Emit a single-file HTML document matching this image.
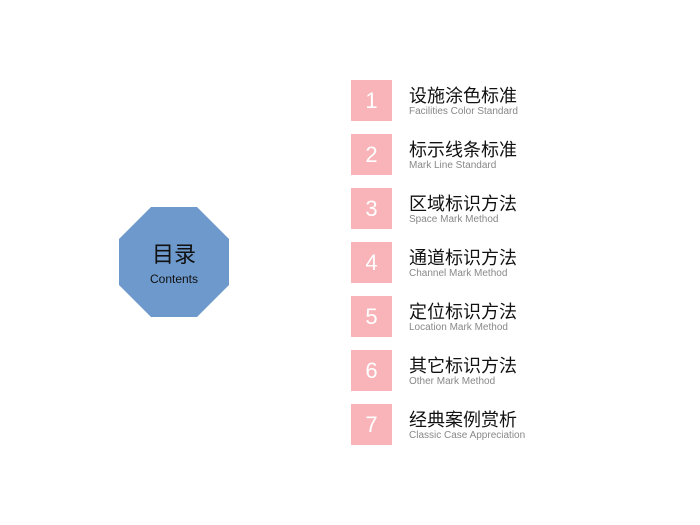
<!DOCTYPE html>
<html><head><meta charset="utf-8"><style>
body{margin:0;width:700px;height:525px;background:#fff;position:relative;overflow:hidden;font-family:"Liberation Sans","Noto Sans CJK SC",sans-serif}
.sq{position:absolute;left:351px;width:41px;height:41px;background:#f8b4b8;color:#fff;font-size:22px;line-height:41px;text-align:center}
.cn{position:absolute;left:409px;font-size:18px;color:#111;line-height:20px}
.en{position:absolute;left:409px;font-size:10px;color:#888;line-height:12px}
</style></head><body>
<svg style="position:absolute;left:0;top:0" width="700" height="525">
<polygon points="151,207 197,207 229,239 229,285 197,317 151,317 119,285 119,239" fill="#6d99cc"/>
<text x="174" y="262" text-anchor="middle" font-family="Noto Sans CJK SC,sans-serif" font-size="22" fill="#111">目录</text>
<text x="174" y="283" text-anchor="middle" font-family="Liberation Sans,sans-serif" font-size="12" fill="#111">Contents</text>
</svg>
<div class="sq" style="top:80px">1</div><div class="cn" style="top:86px">设施涂色标准</div><div class="en" style="top:106px">Facilities Color Standard</div>
<div class="sq" style="top:134px">2</div><div class="cn" style="top:140px">标示线条标准</div><div class="en" style="top:160px">Mark Line Standard</div>
<div class="sq" style="top:188px">3</div><div class="cn" style="top:194px">区域标识方法</div><div class="en" style="top:214px">Space Mark Method</div>
<div class="sq" style="top:242px">4</div><div class="cn" style="top:248px">通道标识方法</div><div class="en" style="top:268px">Channel Mark Method</div>
<div class="sq" style="top:296px">5</div><div class="cn" style="top:302px">定位标识方法</div><div class="en" style="top:322px">Location Mark Method</div>
<div class="sq" style="top:350px">6</div><div class="cn" style="top:356px">其它标识方法</div><div class="en" style="top:376px">Other Mark Method</div>
<div class="sq" style="top:404px">7</div><div class="cn" style="top:410px">经典案例赏析</div><div class="en" style="top:430px">Classic Case Appreciation</div>
</body></html>
